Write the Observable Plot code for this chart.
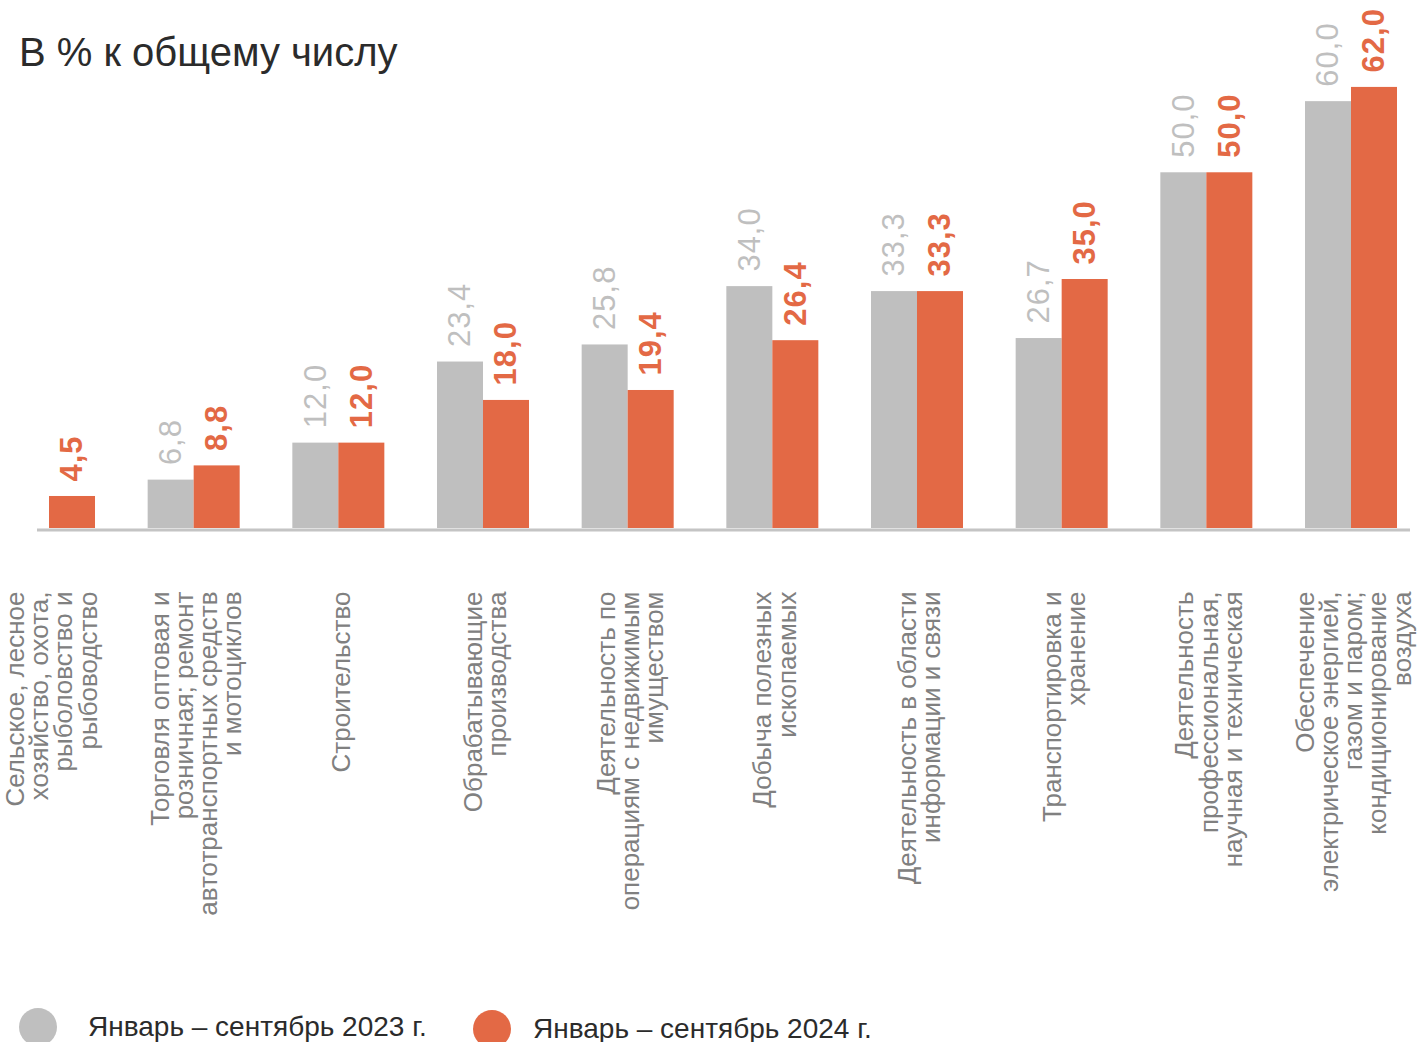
<!DOCTYPE html>
<html>
<head>
<meta charset="utf-8">
<script src="https://cdn.jsdelivr.net/npm/d3@7"></script>
<script src="https://cdn.jsdelivr.net/npm/@observablehq/plot@0.6"></script>
<style>
  html, body { margin: 0; padding: 0; background: #fff; overflow: hidden; }
  body { width: 1417px; height: 1042px; position: relative; font-family: "Liberation Sans", Arial, sans-serif; }
  #title { position: absolute; left: 19px; top: 32px; font-size: 40px; color: #2b2b2b; line-height: 1; z-index: 2; }
  #chart { position: absolute; left: 0; top: 0; }
  .legend { position: absolute; top: 1008px; left: 0; width: 1417px; height: 60px; }
  .item { position: absolute; display: flex; align-items: center; }
  .dot { width: 38px; height: 38px; border-radius: 50%; }
  .lab { font-size: 28px; color: #2b2b2b; white-space: nowrap; }
  g[aria-label="text"][font-size="31"] { letter-spacing: 1px; }
</style>
</head>
<body>
<div id="title">В % к общему числу</div>
<div id="chart"></div>
<div class="legend" id="legend"></div>
<script>
const categories = [
  "Сельское, лесное\nхозяйство, охота,\nрыболовство и\nрыбоводство",
  "Торговля оптовая и\nрозничная; ремонт\nавтотранспортных средств\nи мотоциклов",
  "Строительство",
  "Обрабатывающие\nпроизводства",
  "Деятельность по\nоперациям с недвижимым\nимуществом",
  "Добыча полезных\nископаемых",
  "Деятельность в области\nинформации и связи",
  "Транспортировка и\nхранение",
  "Деятельность\nпрофессиональная,\nнаучная и техническая",
  "Обеспечение\nэлектрическое энергией,\nгазом и паром;\nкондиционирование\nвоздуха"
];
const values2023 = [null, 6.8, 12.0, 23.4, 25.8, 34.0, 33.3, 26.7, 50.0, 60.0];
const values2024 = [4.5, 8.8, 12.0, 18.0, 19.4, 26.4, 33.3, 35.0, 50.0, 62.0];
const seriesNames = ["Январь – сентябрь 2023 г.", "Январь – сентябрь 2024 г."];
const colors = ["#bfbfbf", "#e36945"];

const d2023 = categories.map((c, i) => ({cat: c, v: values2023[i]})).filter(d => d.v != null);
const d2024 = categories.map((c, i) => ({cat: c, v: values2024[i]})).filter(d => d.v != null);
const fmt = v => d3.format(".1f")(v).replace(".", ",");

const plot = Plot.plot({
  width: 1417,
  height: 990,
  marginLeft: 3,
  marginRight: 20,
  marginTop: 30,
  marginBottom: 462,
  style: {fontFamily: "'Liberation Sans', Arial, sans-serif", background: "transparent"},
  x: {domain: categories, paddingInner: 0.364, paddingOuter: 0, round: false, axis: null},
  y: {domain: [0, 70], axis: null},
  marks: [
    Plot.barY(d2023, {x: "cat", y: "v", fill: colors[0], insetRight: 46}),
    Plot.barY(d2024, {x: "cat", y: "v", fill: colors[1], insetLeft: 46}),
    Plot.ruleY([0], {stroke: "#c4c4c4", strokeWidth: 3, insetLeft: 34, insetRight: -13, dy: 1.5}),
    Plot.text(d2023, {x: "cat", y: "v", text: d => fmt(d.v), dx: -23, dy: -15, rotate: -90,
      textAnchor: "start", lineAnchor: "middle", fill: colors[0], fontSize: 31}),
    Plot.text(d2024, {x: "cat", y: "v", text: d => fmt(d.v), dx: 23, dy: -15, rotate: -90,
      textAnchor: "start", lineAnchor: "middle", fill: colors[1], fontSize: 31, fontWeight: "bold"}),
    Plot.text(categories, {x: d => d, text: d => d, frameAnchor: "bottom", dy: 63, dx: 3, rotate: -90,
      textAnchor: "end", lineAnchor: "middle", lineHeight: 0.93, fill: "#808080", fontSize: 26})
  ]
});
document.getElementById("chart").appendChild(plot);

const legend = document.getElementById("legend");
const lefts = [19, 473];
seriesNames.forEach((name, i) => {
  const it = document.createElement("div");
  it.className = "item";
  it.style.left = lefts[i] + "px";
  it.style.top = (i === 0 ? 0 : 2) + "px";
  const dot = document.createElement("div");
  dot.className = "dot";
  dot.style.background = colors[i];
  const lab = document.createElement("div");
  lab.className = "lab";
  lab.style.marginLeft = (i === 0 ? 31 : 22) + "px";
  lab.textContent = name;
  it.appendChild(dot);
  it.appendChild(lab);
  legend.appendChild(it);
});
</script>
</body>
</html>
